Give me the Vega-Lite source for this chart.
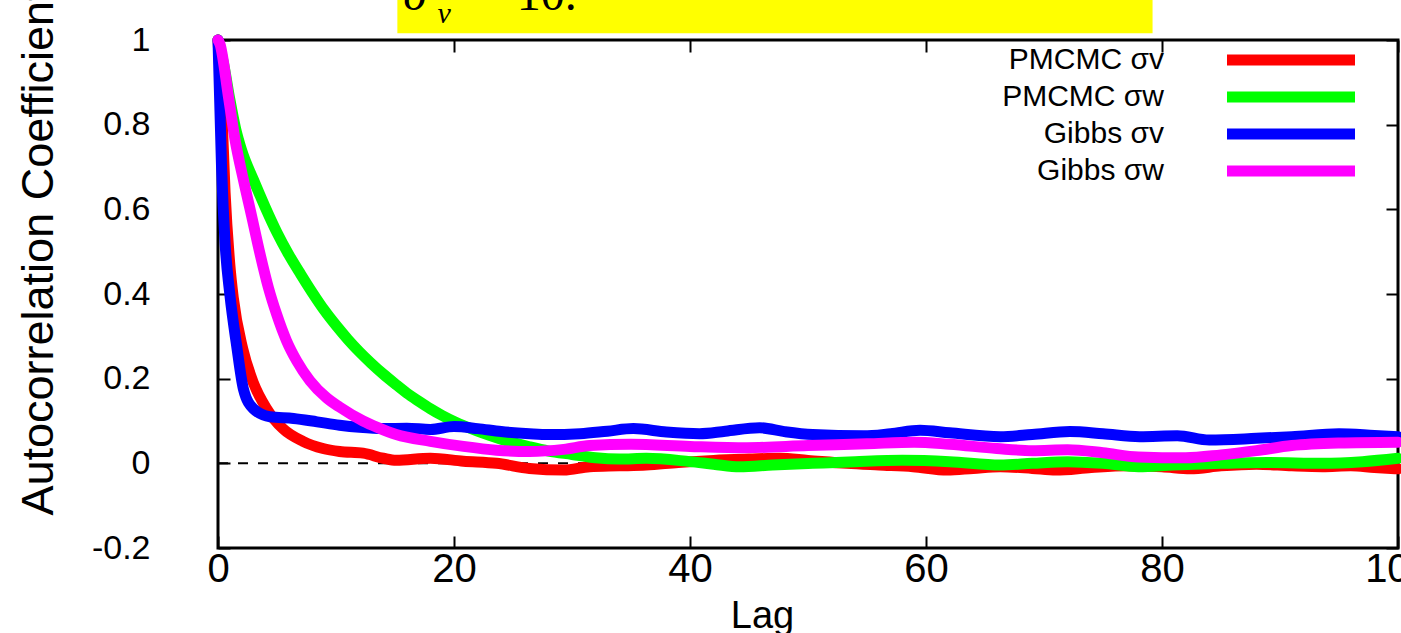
{
  "$schema": "https://vega.github.io/schema/vega-lite/v6.json",
  "autosize": {"type": "none"},
  "width": 1180,
  "height": 508,
  "padding": {"left": 218, "top": 40, "right": 3, "bottom": 85},
  "background": "white",
  "config": {
    "view": {"stroke": "black", "strokeWidth": 3},
    "axis": {"grid": false, "domain": false, "ticks": true, "tickColor": "black", "tickWidth": 2, "tickSize": -12, "labelColor": "black", "titleColor": "black", "titleFontWeight": "normal"}
  },
  "datasets": {
    "acf": [
      {"series": "PMCMC σv", "lag": 0, "r": 1.0},
      {"series": "PMCMC σv", "lag": 0.3, "r": 0.85},
      {"series": "PMCMC σv", "lag": 0.6, "r": 0.64},
      {"series": "PMCMC σv", "lag": 1.0, "r": 0.47},
      {"series": "PMCMC σv", "lag": 1.3, "r": 0.39},
      {"series": "PMCMC σv", "lag": 2.1, "r": 0.27},
      {"series": "PMCMC σv", "lag": 3.0, "r": 0.19},
      {"series": "PMCMC σv", "lag": 4.1, "r": 0.13},
      {"series": "PMCMC σv", "lag": 5.5, "r": 0.082},
      {"series": "PMCMC σv", "lag": 7.2, "r": 0.052},
      {"series": "PMCMC σv", "lag": 8.9, "r": 0.035},
      {"series": "PMCMC σv", "lag": 10.3, "r": 0.028},
      {"series": "PMCMC σv", "lag": 12.3, "r": 0.024},
      {"series": "PMCMC σv", "lag": 14, "r": 0.012},
      {"series": "PMCMC σv", "lag": 15.1, "r": 0.007},
      {"series": "PMCMC σv", "lag": 18, "r": 0.012},
      {"series": "PMCMC σv", "lag": 20.8, "r": 0.005},
      {"series": "PMCMC σv", "lag": 23.6, "r": 0.0},
      {"series": "PMCMC σv", "lag": 26.4, "r": -0.012},
      {"series": "PMCMC σv", "lag": 29.3, "r": -0.016},
      {"series": "PMCMC σv", "lag": 31.5, "r": -0.008},
      {"series": "PMCMC σv", "lag": 34, "r": -0.006},
      {"series": "PMCMC σv", "lag": 36.3, "r": -0.004},
      {"series": "PMCMC σv", "lag": 39, "r": 0.002},
      {"series": "PMCMC σv", "lag": 42, "r": 0.007},
      {"series": "PMCMC σv", "lag": 45, "r": 0.01},
      {"series": "PMCMC σv", "lag": 47.6, "r": 0.012},
      {"series": "PMCMC σv", "lag": 50, "r": 0.007},
      {"series": "PMCMC σv", "lag": 53.3, "r": 0.0},
      {"series": "PMCMC σv", "lag": 56, "r": -0.004},
      {"series": "PMCMC σv", "lag": 58.9, "r": -0.008},
      {"series": "PMCMC σv", "lag": 61.8, "r": -0.016},
      {"series": "PMCMC σv", "lag": 64, "r": -0.012},
      {"series": "PMCMC σv", "lag": 66.3, "r": -0.008},
      {"series": "PMCMC σv", "lag": 69, "r": -0.012},
      {"series": "PMCMC σv", "lag": 71, "r": -0.016},
      {"series": "PMCMC σv", "lag": 74, "r": -0.01},
      {"series": "PMCMC σv", "lag": 77, "r": -0.006},
      {"series": "PMCMC σv", "lag": 80, "r": -0.008},
      {"series": "PMCMC σv", "lag": 82.4, "r": -0.013},
      {"series": "PMCMC σv", "lag": 85, "r": -0.006},
      {"series": "PMCMC σv", "lag": 88, "r": -0.002},
      {"series": "PMCMC σv", "lag": 91, "r": -0.006},
      {"series": "PMCMC σv", "lag": 93.6, "r": -0.008},
      {"series": "PMCMC σv", "lag": 96, "r": -0.006},
      {"series": "PMCMC σv", "lag": 98, "r": -0.01},
      {"series": "PMCMC σv", "lag": 100, "r": -0.013},

      {"series": "PMCMC σw", "lag": 0, "r": 1.0},
      {"series": "PMCMC σw", "lag": 0.5, "r": 0.94},
      {"series": "PMCMC σw", "lag": 1, "r": 0.86},
      {"series": "PMCMC σw", "lag": 1.5, "r": 0.79},
      {"series": "PMCMC σw", "lag": 2, "r": 0.74},
      {"series": "PMCMC σw", "lag": 3, "r": 0.67},
      {"series": "PMCMC σw", "lag": 4, "r": 0.605},
      {"series": "PMCMC σw", "lag": 5, "r": 0.545},
      {"series": "PMCMC σw", "lag": 6, "r": 0.493},
      {"series": "PMCMC σw", "lag": 7, "r": 0.447},
      {"series": "PMCMC σw", "lag": 8, "r": 0.403},
      {"series": "PMCMC σw", "lag": 9, "r": 0.362},
      {"series": "PMCMC σw", "lag": 10, "r": 0.326},
      {"series": "PMCMC σw", "lag": 11, "r": 0.293},
      {"series": "PMCMC σw", "lag": 12, "r": 0.263},
      {"series": "PMCMC σw", "lag": 13, "r": 0.236},
      {"series": "PMCMC σw", "lag": 14, "r": 0.211},
      {"series": "PMCMC σw", "lag": 15, "r": 0.188},
      {"series": "PMCMC σw", "lag": 16, "r": 0.166},
      {"series": "PMCMC σw", "lag": 17, "r": 0.147},
      {"series": "PMCMC σw", "lag": 18, "r": 0.129},
      {"series": "PMCMC σw", "lag": 19, "r": 0.113},
      {"series": "PMCMC σw", "lag": 20, "r": 0.099},
      {"series": "PMCMC σw", "lag": 21, "r": 0.087},
      {"series": "PMCMC σw", "lag": 22, "r": 0.076},
      {"series": "PMCMC σw", "lag": 23, "r": 0.066},
      {"series": "PMCMC σw", "lag": 24, "r": 0.057},
      {"series": "PMCMC σw", "lag": 25, "r": 0.049},
      {"series": "PMCMC σw", "lag": 26.4, "r": 0.039},
      {"series": "PMCMC σw", "lag": 28, "r": 0.029},
      {"series": "PMCMC σw", "lag": 30, "r": 0.021},
      {"series": "PMCMC σw", "lag": 32, "r": 0.013},
      {"series": "PMCMC σw", "lag": 34, "r": 0.01},
      {"series": "PMCMC σw", "lag": 36.3, "r": 0.012},
      {"series": "PMCMC σw", "lag": 40, "r": 0.004},
      {"series": "PMCMC σw", "lag": 42, "r": -0.002},
      {"series": "PMCMC σw", "lag": 44.2, "r": -0.008},
      {"series": "PMCMC σw", "lag": 47, "r": -0.004},
      {"series": "PMCMC σw", "lag": 50.4, "r": 0.0},
      {"series": "PMCMC σw", "lag": 54, "r": 0.004},
      {"series": "PMCMC σw", "lag": 58, "r": 0.007},
      {"series": "PMCMC σw", "lag": 62, "r": 0.004},
      {"series": "PMCMC σw", "lag": 66.3, "r": -0.004},
      {"series": "PMCMC σw", "lag": 69, "r": 0.0},
      {"series": "PMCMC σw", "lag": 72, "r": 0.004},
      {"series": "PMCMC σw", "lag": 75, "r": 0.0},
      {"series": "PMCMC σw", "lag": 78, "r": -0.008},
      {"series": "PMCMC σw", "lag": 81, "r": -0.004},
      {"series": "PMCMC σw", "lag": 85, "r": 0.0},
      {"series": "PMCMC σw", "lag": 89, "r": 0.002},
      {"series": "PMCMC σw", "lag": 93.6, "r": 0.0},
      {"series": "PMCMC σw", "lag": 97, "r": 0.004},
      {"series": "PMCMC σw", "lag": 100, "r": 0.012},

      {"series": "Gibbs σv", "lag": 0, "r": 1.0},
      {"series": "Gibbs σv", "lag": 0.3, "r": 0.7},
      {"series": "Gibbs σv", "lag": 0.6, "r": 0.52},
      {"series": "Gibbs σv", "lag": 1.0, "r": 0.40},
      {"series": "Gibbs σv", "lag": 1.58, "r": 0.278},
      {"series": "Gibbs σv", "lag": 2.15, "r": 0.176},
      {"series": "Gibbs σv", "lag": 3, "r": 0.129},
      {"series": "Gibbs σv", "lag": 4.4, "r": 0.11},
      {"series": "Gibbs σv", "lag": 6.4, "r": 0.106},
      {"series": "Gibbs σv", "lag": 8.4, "r": 0.098},
      {"series": "Gibbs σv", "lag": 10.3, "r": 0.09},
      {"series": "Gibbs σv", "lag": 12, "r": 0.085},
      {"series": "Gibbs σv", "lag": 14, "r": 0.082},
      {"series": "Gibbs σv", "lag": 16, "r": 0.083},
      {"series": "Gibbs σv", "lag": 18, "r": 0.08},
      {"series": "Gibbs σv", "lag": 20, "r": 0.087},
      {"series": "Gibbs σv", "lag": 22, "r": 0.082},
      {"series": "Gibbs σv", "lag": 24, "r": 0.075},
      {"series": "Gibbs σv", "lag": 26.4, "r": 0.07},
      {"series": "Gibbs σv", "lag": 28, "r": 0.068},
      {"series": "Gibbs σv", "lag": 30.7, "r": 0.07},
      {"series": "Gibbs σv", "lag": 33, "r": 0.076},
      {"series": "Gibbs σv", "lag": 35.2, "r": 0.082},
      {"series": "Gibbs σv", "lag": 38, "r": 0.074},
      {"series": "Gibbs σv", "lag": 40.8, "r": 0.07},
      {"series": "Gibbs σv", "lag": 43, "r": 0.076},
      {"series": "Gibbs σv", "lag": 45.9, "r": 0.084},
      {"series": "Gibbs σv", "lag": 48, "r": 0.075},
      {"series": "Gibbs σv", "lag": 50.4, "r": 0.068},
      {"series": "Gibbs σv", "lag": 54.7, "r": 0.065},
      {"series": "Gibbs σv", "lag": 57, "r": 0.07},
      {"series": "Gibbs σv", "lag": 59.5, "r": 0.078},
      {"series": "Gibbs σv", "lag": 62, "r": 0.072},
      {"series": "Gibbs σv", "lag": 66.3, "r": 0.063},
      {"series": "Gibbs σv", "lag": 69, "r": 0.068},
      {"series": "Gibbs σv", "lag": 72.2, "r": 0.075},
      {"series": "Gibbs σv", "lag": 75, "r": 0.07},
      {"series": "Gibbs σv", "lag": 78.1, "r": 0.063},
      {"series": "Gibbs σv", "lag": 81.3, "r": 0.065},
      {"series": "Gibbs σv", "lag": 84, "r": 0.055},
      {"series": "Gibbs σv", "lag": 88, "r": 0.059},
      {"series": "Gibbs σv", "lag": 91, "r": 0.063},
      {"series": "Gibbs σv", "lag": 95, "r": 0.07},
      {"series": "Gibbs σv", "lag": 98, "r": 0.066},
      {"series": "Gibbs σv", "lag": 100, "r": 0.063},

      {"series": "Gibbs σw", "lag": 0, "r": 1.0},
      {"series": "Gibbs σw", "lag": 0.17, "r": 0.99},
      {"series": "Gibbs σw", "lag": 0.88, "r": 0.867},
      {"series": "Gibbs σw", "lag": 1.44, "r": 0.765},
      {"series": "Gibbs σw", "lag": 2.15, "r": 0.67},
      {"series": "Gibbs σw", "lag": 2.85, "r": 0.584},
      {"series": "Gibbs σw", "lag": 3.56, "r": 0.495},
      {"series": "Gibbs σw", "lag": 4.27, "r": 0.415},
      {"series": "Gibbs σw", "lag": 4.97, "r": 0.352},
      {"series": "Gibbs σw", "lag": 5.8, "r": 0.29},
      {"series": "Gibbs σw", "lag": 6.67, "r": 0.242},
      {"series": "Gibbs σw", "lag": 7.8, "r": 0.195},
      {"series": "Gibbs σw", "lag": 9.2, "r": 0.155},
      {"series": "Gibbs σw", "lag": 10.3, "r": 0.133},
      {"series": "Gibbs σw", "lag": 12.3, "r": 0.1},
      {"series": "Gibbs σw", "lag": 13.5, "r": 0.085},
      {"series": "Gibbs σw", "lag": 15.1, "r": 0.068},
      {"series": "Gibbs σw", "lag": 18, "r": 0.052},
      {"series": "Gibbs σw", "lag": 20.8, "r": 0.04},
      {"series": "Gibbs σw", "lag": 23.6, "r": 0.031},
      {"series": "Gibbs σw", "lag": 26.4, "r": 0.028},
      {"series": "Gibbs σw", "lag": 29.3, "r": 0.033},
      {"series": "Gibbs σw", "lag": 31.5, "r": 0.042},
      {"series": "Gibbs σw", "lag": 35, "r": 0.045},
      {"series": "Gibbs σw", "lag": 40, "r": 0.04},
      {"series": "Gibbs σw", "lag": 44.8, "r": 0.037},
      {"series": "Gibbs σw", "lag": 50, "r": 0.042},
      {"series": "Gibbs σw", "lag": 55, "r": 0.046},
      {"series": "Gibbs σw", "lag": 59, "r": 0.05},
      {"series": "Gibbs σw", "lag": 62, "r": 0.045},
      {"series": "Gibbs σw", "lag": 66, "r": 0.035},
      {"series": "Gibbs σw", "lag": 69, "r": 0.03},
      {"series": "Gibbs σw", "lag": 72, "r": 0.032},
      {"series": "Gibbs σw", "lag": 75, "r": 0.025},
      {"series": "Gibbs σw", "lag": 78, "r": 0.015},
      {"series": "Gibbs σw", "lag": 82, "r": 0.013},
      {"series": "Gibbs σw", "lag": 85, "r": 0.02},
      {"series": "Gibbs σw", "lag": 88, "r": 0.03},
      {"series": "Gibbs σw", "lag": 91, "r": 0.042},
      {"series": "Gibbs σw", "lag": 95, "r": 0.048},
      {"series": "Gibbs σw", "lag": 100, "r": 0.05}
    ]
  },
  "layer": [
    {
      "data": {"values": [{}]},
      "mark": {"type": "rect", "color": "#ffff00"},
      "encoding": {
        "x": {"datum": 15.2, "type": "quantitative", "scale": {"domain": [0, 100], "nice": false, "zero": false}, "axis": null},
        "x2": {"datum": 79.2},
        "y": {"datum": 1.016, "type": "quantitative", "scale": {"domain": [-0.2, 1], "nice": false, "zero": false}, "axis": null},
        "y2": {"datum": 1.3}
      }
    },
    {
      "data": {"values": [{}]},
      "mark": {"type": "text", "text": "σ", "font": "Liberation Serif", "fontStyle": "italic", "fontSize": 48, "align": "left", "baseline": "alphabetic", "color": "black"},
      "encoding": {
        "x": {"datum": 15.7, "type": "quantitative", "scale": {"domain": [0, 100], "nice": false, "zero": false}, "axis": null},
        "y": {"datum": 1.071, "type": "quantitative", "scale": {"domain": [-0.2, 1], "nice": false, "zero": false}, "axis": null}
      }
    },
    {
      "data": {"values": [{}]},
      "mark": {"type": "text", "text": "v", "font": "Liberation Serif", "fontStyle": "italic", "fontSize": 30, "align": "left", "baseline": "alphabetic", "color": "black"},
      "encoding": {
        "x": {"datum": 18.6, "type": "quantitative", "scale": {"domain": [0, 100], "nice": false, "zero": false}, "axis": null},
        "y": {"datum": 1.04, "type": "quantitative", "scale": {"domain": [-0.2, 1], "nice": false, "zero": false}, "axis": null}
      }
    },
    {
      "data": {"values": [{}]},
      "mark": {"type": "text", "text": "= 10.", "font": "Liberation Serif", "fontSize": 48, "align": "left", "baseline": "alphabetic", "color": "black"},
      "encoding": {
        "x": {"datum": 22.0, "type": "quantitative", "scale": {"domain": [0, 100], "nice": false, "zero": false}, "axis": null},
        "y": {"datum": 1.071, "type": "quantitative", "scale": {"domain": [-0.2, 1], "nice": false, "zero": false}, "axis": null}
      }
    },
    {
      "data": {"values": [{}]},
      "mark": {"type": "rule", "color": "black", "strokeWidth": 2, "strokeDash": [10, 10]},
      "encoding": {
        "x": {"datum": 0, "type": "quantitative", "scale": {"domain": [0, 100], "nice": false, "zero": false},
          "axis": {"orient": "top", "values": [0, 20, 40, 60, 80, 100], "labels": false, "title": null}},
        "x2": {"datum": 100},
        "y": {"datum": 0, "type": "quantitative", "scale": {"domain": [-0.2, 1], "nice": false, "zero": false},
          "axis": {"orient": "right", "values": [-0.2, 0, 0.2, 0.4, 0.6, 0.8, 1], "labels": false, "title": null}}
      }
    },
    {
      "data": {"name": "acf"},
      "mark": {"type": "line", "strokeWidth": 11, "interpolate": "monotone", "strokeCap": "round", "strokeJoin": "round"},
      "encoding": {
        "x": {"field": "lag", "type": "quantitative", "scale": {"domain": [0, 100], "nice": false, "zero": false},
          "axis": {"orient": "bottom", "values": [0, 20, 40, 60, 80, 100], "title": "Lag", "labelFont": "Liberation Sans", "labelFontSize": 40, "labelPadding": 13, "labelFlush": false,
            "titleFont": "Liberation Sans", "titleFontSize": 38, "titleX": 544, "titleY": 79, "titleBaseline": "alphabetic", "titleAlign": "center"}},
        "y": {"field": "r", "type": "quantitative", "scale": {"domain": [-0.2, 1], "nice": false, "zero": false},
          "axis": {"orient": "left", "values": [-0.2, 0, 0.2, 0.4, 0.6, 0.8, 1], "title": "Autocorrelation Coefficient",
            "labelExpr": "replace(format(datum.value, '~g'), '−', '-')",
            "labelFont": "Liberation Sans", "labelFontSize": 34, "labelPadding": 80, "labelFlush": false,
            "titleFont": "Liberation Sans", "titleFontSize": 45, "titleAngle": 270, "titleX": -166, "titleY": 475, "titleAlign": "left", "titleBaseline": "alphabetic"}},
        "color": {"field": "series", "type": "nominal",
          "scale": {"domain": ["PMCMC σv", "PMCMC σw", "Gibbs σv", "Gibbs σw"], "range": ["#ff0000", "#00ff00", "#0000ff", "#ff00ff"]},
          "legend": {"orient": "none", "legendX": 1058, "legendY": 5, "title": null, "padding": 0,
            "symbolType": "M-8,0H8", "symbolSize": 256, "symbolStrokeWidth": 11, "symbolFillColor": "transparent",
            "labelAlign": "right", "labelOffset": -142, "labelFont": "Liberation Sans", "labelFontSize": 30, "labelColor": "black", "labelLimit": 0, "rowPadding": -34}},
        "order": {"field": "lag", "type": "quantitative"}
      }
    }
  ],
  "resolve": {"axis": {"x": "independent", "y": "independent"}}
}
